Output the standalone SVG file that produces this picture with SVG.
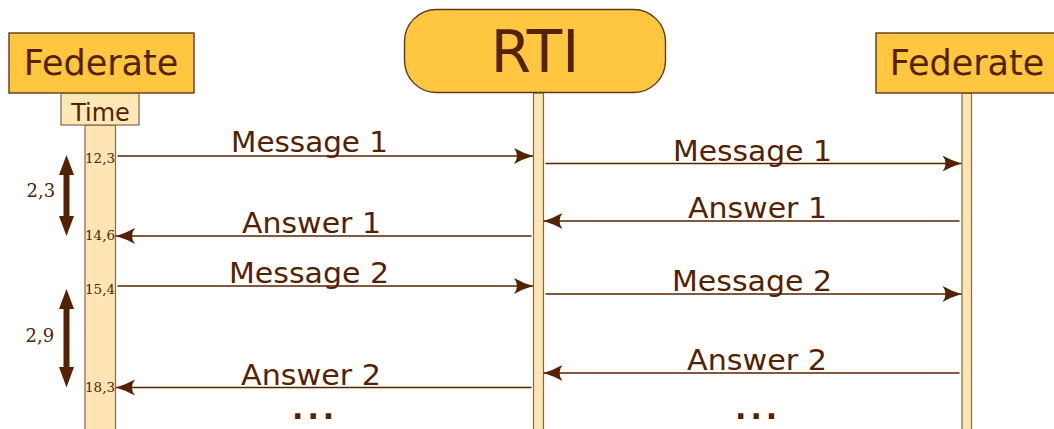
<svg xmlns="http://www.w3.org/2000/svg" width="1054" height="429" viewBox="0 0 1054 429">
  <style>
    .box { fill: #ffc640; stroke: #5e3a1a; stroke-width: 1.4; }
    .life { fill: #ffe5b4; stroke: #8a6640; stroke-width: 1.2; }
    .msg { stroke: #552200; stroke-width: 1.6; fill: none; marker-end: url(#head); }
    .lbl { font-family: "DejaVu Sans", sans-serif; font-size: 27.5px; fill: #552200; text-anchor: start; }
    .dots { font-family: "DejaVu Sans", sans-serif; font-size: 30px; font-weight: bold; letter-spacing: 4px; fill: #552200; }
    .title { font-family: "DejaVu Sans", sans-serif; fill: #552200; text-anchor: middle; }
    .tick { font-family: "DejaVu Serif", serif; font-size: 13.5px; fill: #552200; }
    .dur { font-family: "DejaVu Serif", serif; font-size: 18px; fill: #552200; }
    .span { fill: #552200; }
  </style>
  <defs>
    <marker id="head" markerUnits="userSpaceOnUse" markerWidth="26" markerHeight="20" viewBox="-22 -10 24 20" refX="0" refY="0" orient="auto">
      <path d="M0,0 Q-10,-3 -19,-8 Q-13,0 -19,8 Q-10,3 0,0 Z" fill="#552200"/>
    </marker>
  </defs>

  <!-- lifelines -->
  <g id="lifelines">
    <rect class="life" x="85" y="125" width="30.5" height="310"/>
    <rect class="life" x="533.5" y="93" width="10" height="342"/>
    <rect class="life" x="962" y="93" width="9.5" height="342"/>
  </g>

  <g id="federate-left">
    <rect class="box" x="9" y="33" width="185" height="60"/>
    <text class="title" x="101" y="75" font-size="35">Federate</text>
  </g>

  <g id="time">
    <rect class="life" x="61" y="93.5" width="78" height="31.5" style="fill:#ffe8b8"/>
    <text class="title" x="100.5" y="120.5" font-size="24">Time</text>
  </g>

  <g id="rti">
    <rect class="box" x="404.5" y="9.5" width="261" height="83" rx="32" ry="32"/>
    <text class="title" x="535" y="72" font-size="58">RTI</text>
  </g>

  <g id="federate-right">
    <rect class="box" x="876" y="33" width="185" height="60"/>
    <text class="title" x="967" y="75" font-size="35">Federate</text>
  </g>

  <!-- messages and answers -->
  <g id="connectors">
    <line class="msg" x1="117.5" y1="156" x2="533" y2="156"/>
    <line class="msg" x1="545.5" y1="163.5" x2="961.5" y2="163.5"/>
    <line class="msg" x1="959.5" y1="221" x2="543.5" y2="221"/>
    <line class="msg" x1="531.5" y1="236" x2="116" y2="236"/>
    <line class="msg" x1="117.5" y1="286" x2="533" y2="286"/>
    <line class="msg" x1="545.5" y1="294" x2="961.5" y2="294"/>
    <line class="msg" x1="959.5" y1="373" x2="543.5" y2="373"/>
    <line class="msg" x1="531.5" y1="387.5" x2="116" y2="387.5"/>
  </g>

  <g id="labels">
    <text class="lbl" x="231" y="152" textLength="157" lengthAdjust="spacingAndGlyphs">Message 1</text>
    <text class="lbl" x="673" y="161" textLength="159" lengthAdjust="spacingAndGlyphs">Message 1</text>
    <text class="lbl" x="688" y="218" textLength="139" lengthAdjust="spacingAndGlyphs">Answer 1</text>
    <text class="lbl" x="242" y="233" textLength="139" lengthAdjust="spacingAndGlyphs">Answer 1</text>
    <text class="lbl" x="229" y="283" textLength="160" lengthAdjust="spacingAndGlyphs">Message 2</text>
    <text class="lbl" x="672" y="291" textLength="160" lengthAdjust="spacingAndGlyphs">Message 2</text>
    <text class="lbl" x="687" y="370" textLength="140" lengthAdjust="spacingAndGlyphs">Answer 2</text>
    <text class="lbl" x="241" y="385" textLength="140" lengthAdjust="spacingAndGlyphs">Answer 2</text>
    <text class="dots" x="292" y="419">...</text>
    <text class="dots" x="735" y="419">...</text>
  </g>

  <!-- timestamps on the federate time line -->
  <g id="timestamps">
    <text class="tick" x="85" y="162.5">12,3</text>
    <text class="tick" x="85" y="239.5">14,6</text>
    <text class="tick" x="85" y="294">15,4</text>
    <text class="tick" x="85" y="391.5">18,3</text>
  </g>

  <!-- elapsed time spans -->
  <g id="spans">
    <path class="span" d="M66.5,155 L74,175 L69.5,175 L69.5,216 L74,216 L66.5,236 L59,216 L63.5,216 L63.5,175 L59,175 Z"/>
    <text class="dur" x="26.5" y="197">2,3</text>
    <path class="span" d="M66.5,289 L74,309 L69.5,309 L69.5,367 L74,367 L66.5,387.5 L59,367 L63.5,367 L63.5,309 L59,309 Z"/>
    <text class="dur" x="25.5" y="341.5">2,9</text>
  </g>
</svg>
